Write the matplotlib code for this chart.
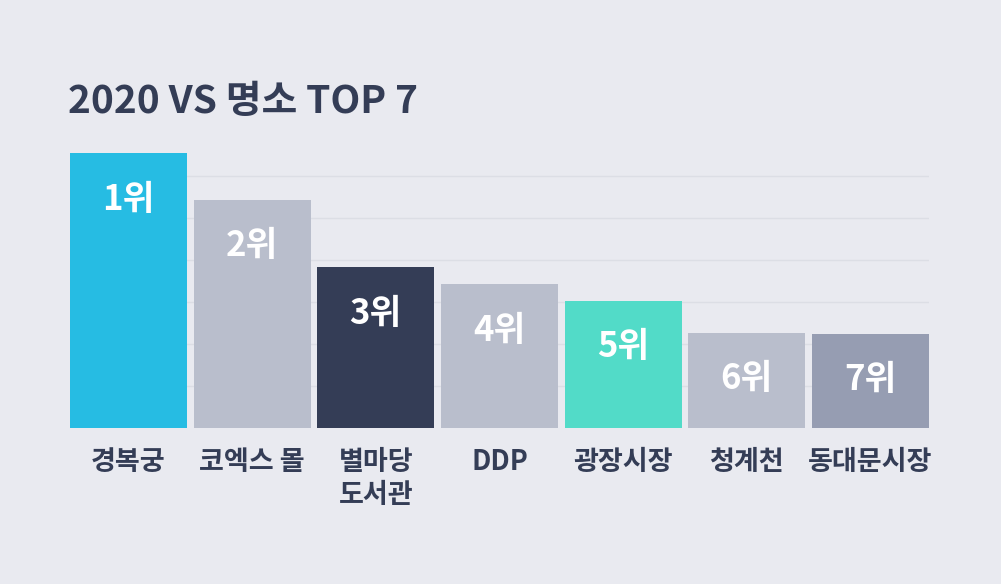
import numpy as np
import matplotlib
matplotlib.use('Agg')
import matplotlib.pyplot as plt

plt.rcParams['font.family'] = ['Noto Sans CJK KR', 'DejaVu Sans']

### DATA ######################################################################
places = ['경복궁', '코엑스 몰', '별마당\n도서관', 'DDP', '광장시장', '청계천', '동대문시장']
ranks  = ['1위', '2위', '3위', '4위', '5위', '6위', '7위']
values = [65.5, 54.4, 38.3, 34.3, 30.4, 22.7, 22.5]
colors = ['#26BCE3', '#B9BECC', '#343D56', '#B9BECC', '#52DBC8', '#B9BECC', '#969DB2']
title  = '2020 VS 명소 TOP 7'

### SETTINGS ##################################################################
bg     = '#E9EAF0'
navy   = '#343D56'
gridc  = '#DCDEE5'
W, H   = 1001, 584
barw   = 0.946

###############################################################################
fig = plt.figure(figsize=(W/100, H/100), dpi=100, facecolor=bg)
ax = fig.add_axes([70/W, 1-428.3/H, 859/W, 294/H])
ax.set_facecolor(bg)

x = np.arange(len(values))
for y in range(10, 70, 10):
    ax.axhline(y, color=gridc, linewidth=1.0, zorder=0)
ax.bar(x, values, width=barw, color=colors, zorder=2)

# rank label sits a fixed distance below the bar top
for xi, v, r in zip(x, values, ranks):
    ax.annotate(r, (xi, v), xytext=(0, -46*0.72), textcoords='offset points',
                ha='center', va='center', color='white', fontsize=25,
                fontweight='heavy', zorder=3)

ax.set_xlim(-barw/2, len(values)-1+barw/2)
ax.set_ylim(0, 70)
ax.set_xticks(x)
ax.set_xticklabels(places, fontsize=19.5, fontweight='bold', color=navy,
                   linespacing=1.25, va='top')
ax.tick_params(axis='x', length=0, pad=14)
ax.set_yticks([])
for s in ax.spines.values():
    s.set_visible(False)

fig.text(68/W, 1-101/H, title, ha='left', va='center', fontsize=28,
         fontweight='heavy', color=navy)

plt.savefig('out.png', dpi=100, facecolor=bg)
